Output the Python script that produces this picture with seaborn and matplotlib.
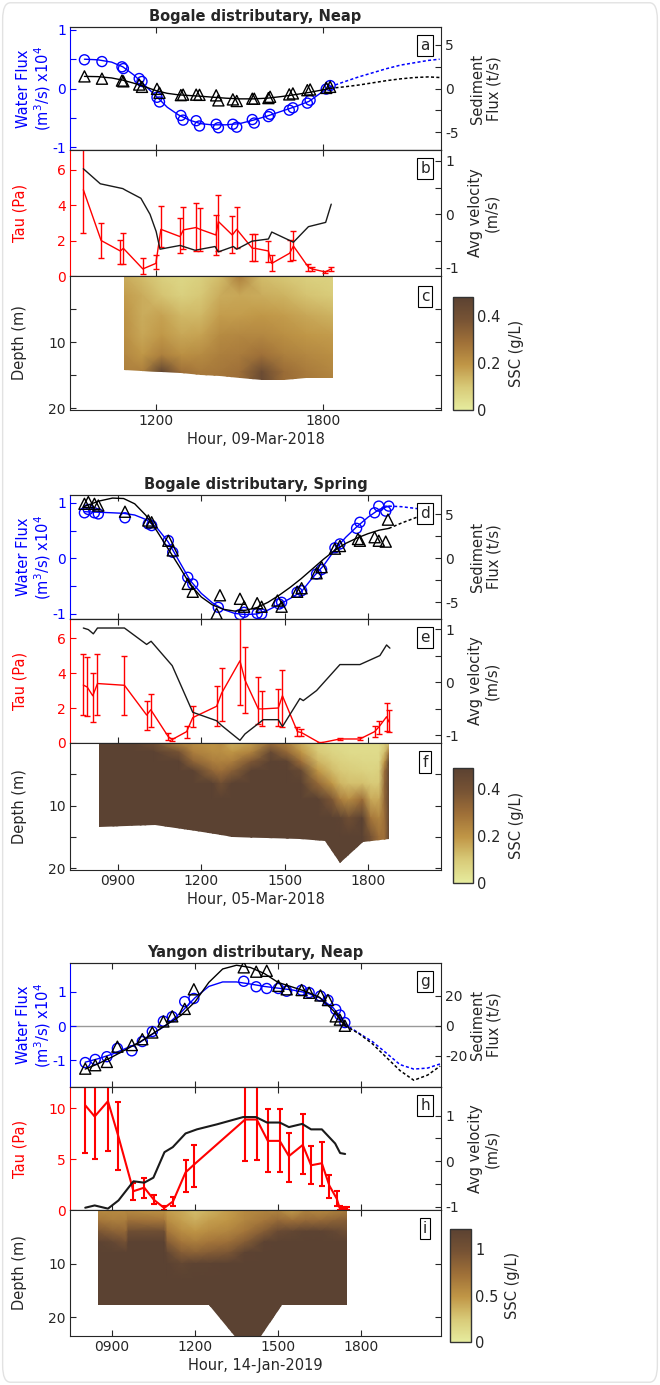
import numpy as np
import matplotlib
matplotlib.use("Agg")
import matplotlib.pyplot as plt
from matplotlib.colors import LinearSegmentedColormap
from matplotlib.patches import FancyBboxPatch, Polygon
import seaborn as sns

# ---------------- Bogale, neap (09-Mar-2018) ----------------
a_t = [9.42, 10.05, 10.77, 10.82, 11.39, 11.49, 12.03, 12.12, 12.89, 12.97, 13.44, 13.56, 14.16,
       14.24, 14.76, 14.90, 15.46, 15.53, 16.04, 16.10, 16.79, 16.92, 17.44, 17.54, 18.12, 18.26]
a_water = [0.49, 0.46, 0.37, 0.34, 0.17, 0.12, -0.15, -0.23, -0.46, -0.54, -0.55, -0.64, -0.61,
           -0.67, -0.61, -0.66, -0.53, -0.59, -0.48, -0.44, -0.37, -0.33, -0.25, -0.20, -0.01, 0.05]
a_sed = [1.38, 1.12, 0.90, 0.82, 0.45, 0.19, -0.04, -0.49, -0.75, -0.70, -0.70, -0.72, -0.78,
         -1.35, -1.24, -1.42, -1.16, -1.16, -1.09, -0.94, -0.67, -0.56, -0.19, -0.11, 0.07, 0.19]
a_fit_t = [9.42, 9.9, 10.4, 10.8, 11.2, 11.6, 12.0, 12.4, 12.8, 13.2, 13.6, 14.0, 14.5, 15.0, 15.5,
           16.0, 16.5, 17.0, 17.5, 18.0, 18.26]
a_fit_water = [0.50, 0.49, 0.45, 0.37, 0.23, 0.05, -0.13, -0.32, -0.45, -0.54, -0.60, -0.62, -0.62,
               -0.60, -0.54, -0.47, -0.39, -0.31, -0.22, -0.05, 0.03]
a_fit_sed = [1.38, 1.35, 1.2, 0.95, 0.6, 0.2, -0.25, -0.55, -0.72, -0.8, -0.88, -0.98, -1.1, -1.18,
             -1.18, -1.1, -0.92, -0.7, -0.45, -0.15, 0.02]
a_ext_t = [18.26, 18.8, 19.3, 19.8, 20.3, 20.8, 21.3, 21.8, 22.2]
a_ext_water = [0.03, 0.12, 0.2, 0.27, 0.34, 0.4, 0.44, 0.48, 0.5]
a_ext_sed = [0.02, 0.2, 0.4, 0.65, 0.9, 1.1, 1.25, 1.32, 1.25]

b_t = [9.38, 10.02, 10.71, 10.82, 11.52, 11.99, 12.17, 12.86, 12.98, 13.43, 13.58, 14.15, 14.24,
       14.74, 14.90, 15.46, 15.55, 16.04, 16.16, 16.80, 16.94, 17.48, 17.60, 18.08, 18.30]
b_tau = [4.86, 2.0, 1.41, 1.56, 0.4, 0.71, 2.63, 2.22, 2.6, 2.73, 2.63, 2.31, 3.07, 2.31, 2.63,
         1.56, 1.56, 1.41, 0.71, 1.28, 1.69, 0.49, 0.4, 0.23, 0.4]
b_tau_lo = [2.43, 1.0, 0.68, 0.7, 0.1, 0.4, 1.62, 1.28, 1.5, 1.41, 1.4, 1.19, 1.4, 1.3, 1.6, 0.85,
            0.85, 0.8, 0.3, 0.87, 0.9, 0.3, 0.3, 0.15, 0.3]
b_tau_hi = [7.5, 2.98, 2.03, 2.41, 1.0, 1.2, 3.95, 3.26, 3.9, 4.1, 3.85, 3.44, 4.58, 3.4, 3.9, 2.35,
            2.35, 2.0, 1.2, 2.03, 2.56, 0.65, 0.5, 0.3, 0.5]
b_vel_t = [9.38, 9.99, 10.8, 10.9, 11.45, 11.78, 12.0, 12.14, 12.86, 13.4, 14.12, 14.24, 14.78,
           14.9, 15.45, 16.04, 16.16, 16.94, 17.48, 18.1, 18.3]
b_vel = [0.85, 0.57, 0.48, 0.45, 0.3, 0.0, -0.32, -0.65, -0.58, -0.67, -0.6, -0.7, -0.6, -0.65,
         -0.5, -0.46, -0.33, -0.52, -0.23, -0.15, 0.19]

c_time = [10.86, 11.5, 12.2, 12.9, 13.6, 14.3, 15.0, 15.8, 16.6, 17.4, 18.37]
c_depth = [0, 3, 6, 9, 12, 14.5, 16.5]
c_ssc = [  # one list per time column, surface to bottom
    [0.15, 0.18, 0.20, 0.21, 0.23, 0.25, 0.26],
    [0.12, 0.15, 0.15, 0.16, 0.19, 0.25, 0.30],
    [0.08, 0.11, 0.17, 0.19, 0.25, 0.46, 0.46],
    [0.06, 0.08, 0.13, 0.16, 0.21, 0.29, 0.30],
    [0.08, 0.10, 0.13, 0.17, 0.22, 0.26, 0.27],
    [0.12, 0.15, 0.18, 0.22, 0.25, 0.27, 0.28],
    [0.25, 0.16, 0.18, 0.23, 0.26, 0.29, 0.30],
    [0.12, 0.15, 0.19, 0.23, 0.29, 0.42, 0.44],
    [0.10, 0.14, 0.18, 0.21, 0.25, 0.30, 0.30],
    [0.08, 0.11, 0.16, 0.19, 0.23, 0.26, 0.27],
    [0.07, 0.09, 0.14, 0.18, 0.21, 0.23, 0.25],
]
c_bed_t = [10.86, 11.5, 12.2, 12.9, 13.6, 14.3, 15.0, 15.8, 16.6, 17.4, 18.37]
c_bed = [14.2, 14.4, 14.6, 14.7, 15.0, 15.2, 15.5, 15.8, 15.7, 15.5, 15.4]

# ---------------- Bogale, spring (05-Mar-2018) ----------------
d_t = [7.79, 7.93, 8.15, 8.29, 9.25, 10.09, 10.21, 10.81, 10.97, 11.51, 11.69, 12.61, 13.39, 13.54,
       14.01, 14.17, 14.80, 14.89, 15.45, 15.61, 16.15, 16.33, 16.81, 16.99, 17.59, 17.71, 18.24,
       18.39, 18.64, 18.75]
d_water = [0.82, 0.88, 0.82, 0.80, 0.73, 0.62, 0.59, 0.32, 0.11, -0.34, -0.46, -0.88, -1.01, -0.97,
           -0.99, -1.0, -0.82, -0.79, -0.61, -0.58, -0.28, -0.20, 0.19, 0.26, 0.54, 0.65, 0.82,
           0.94, 0.85, 0.94]
d_sed_t = [7.79, 7.93, 8.15, 8.29, 9.25, 10.09, 10.21, 10.81, 10.97, 11.51, 11.69, 12.55, 12.67,
           13.39, 13.54, 14.01, 14.17, 14.74, 14.89, 15.45, 15.61, 16.15, 16.33, 16.81, 16.99,
           17.64, 17.71, 18.24, 18.39, 18.64, 18.72]
d_sed = [6.2, 6.4, 6.2, 6.0, 5.3, 4.3, 4.1, 2.0, 0.9, -2.9, -3.8, -6.3, -4.2, -4.6, -5.5, -5.1,
         -5.5, -4.8, -5.5, -3.8, -3.4, -1.7, -1.0, 1.1, 1.4, 2.2, 2.0, 2.4, 2.0, 1.9, 4.4]
d_fit_t = [7.79, 8.3, 8.8, 9.2, 9.6, 10.0, 10.4, 10.8, 11.2, 11.6, 12.0, 12.4, 12.8, 13.2, 13.6,
           14.0, 14.4, 14.8, 15.2, 15.6, 16.0, 16.4, 16.8, 17.2, 17.6, 18.0, 18.4, 18.75]
d_fit_water = [0.84, 0.83, 0.82, 0.81, 0.78, 0.70, 0.55, 0.30, -0.05, -0.40, -0.63, -0.80, -0.92,
               -0.99, -1.01, -1.0, -0.93, -0.83, -0.72, -0.60, -0.35, -0.13, 0.15, 0.38, 0.57,
               0.74, 0.88, 0.94]
d_fit_sed = [5.9, 6.5, 6.85, 6.8, 6.2, 4.9, 3.1, 1.1, -0.9, -3.0, -4.4, -5.3, -5.8, -6.0, -5.9,
             -5.6, -5.0, -4.2, -3.3, -2.3, -1.2, -0.1, 0.9, 1.7, 2.3, 2.8, 3.2, 3.4]
d_ext_t = [18.75, 19.2, 19.7, 20.2]
d_ext_water = [0.94, 0.93, 0.9, 0.86]
d_ext_sed = [3.4, 4.0, 4.6, 5.2]

e_t = [7.75, 7.89, 8.09, 8.26, 9.23, 10.03, 10.18, 10.81, 10.95, 11.47, 11.69, 12.55, 12.73, 13.39,
       13.57, 14.05, 14.20, 14.77, 14.92, 15.46, 15.60, 16.27, 16.99, 17.71, 18.24, 18.40, 18.67,
       18.76]
e_tau = [3.31, 3.2, 2.7, 3.4, 3.3, 1.6, 1.9, 0.36, 0.2, 0.65, 1.45, 2.1, 2.85, 4.7, 3.6, 1.95, 1.95,
         2.0, 2.7, 0.65, 0.6, 0.0, 0.23, 0.23, 0.65, 0.93, 1.5, 1.2]
e_tau_lo = [1.6, 1.55, 1.22, 1.6, 1.6, 0.74, 0.9, 0.2, 0.1, 0.3, 0.9, 0.97, 1.25, 2.2, 1.7, 1.1,
            1.0, 1.0, 0.9, 0.4, 0.4, 0.0, 0.15, 0.15, 0.35, 0.5, 0.7, 0.65]
e_tau_hi = [5.1, 4.9, 3.98, 5.1, 5.0, 2.4, 2.8, 0.6, 0.3, 1.0, 2.1, 3.25, 4.3, 7.5, 5.5, 3.8, 3.0,
            3.1, 4.2, 0.9, 0.8, 0.05, 0.3, 0.35, 0.95, 1.25, 2.27, 1.9]
e_vel_t = [7.75, 7.93, 8.11, 8.26, 9.23, 10.03, 10.19, 10.95, 11.69, 12.55, 12.73, 13.39, 13.57,
           14.23, 14.77, 14.92, 15.55, 15.67, 16.15, 16.99, 17.71, 18.43, 18.67, 18.79]
e_vel = [1.02, 0.99, 0.91, 1.02, 1.02, 0.71, 0.77, 0.31, -0.57, -0.73, -0.82, -1.1, -0.98, -0.71,
         -0.71, -0.84, -0.31, -0.35, -0.16, 0.33, 0.33, 0.5, 0.7, 0.64]

f_time = [8.3, 9.5, 10.3, 11.2, 11.7, 12.4, 12.7, 13.1, 13.8, 14.5, 15.1, 15.6, 16.2, 16.7, 17.0,
          17.3, 17.8, 18.1, 18.4, 18.6, 18.77]
f_depth = [0, 1.5, 3, 4.5, 6.5, 9, 12, 15, 19.5]
f_ssc = [
    [0.6, 0.6, 0.6, 0.6, 0.6, 0.6, 0.6, 0.6, 0.6],
    [0.6, 0.6, 0.6, 0.6, 0.6, 0.6, 0.6, 0.6, 0.6],
    [0.42, 0.6, 0.6, 0.6, 0.6, 0.6, 0.6, 0.6, 0.6],
    [0.25, 0.40, 0.6, 0.6, 0.6, 0.6, 0.6, 0.6, 0.6],
    [0.22, 0.26, 0.34, 0.50, 0.6, 0.6, 0.6, 0.6, 0.6],
    [0.20, 0.22, 0.26, 0.33, 0.52, 0.6, 0.6, 0.6, 0.6],
    [0.22, 0.22, 0.25, 0.30, 0.42, 0.6, 0.6, 0.6, 0.6],
    [0.15, 0.20, 0.26, 0.35, 0.52, 0.6, 0.6, 0.6, 0.6],
    [0.18, 0.25, 0.38, 0.55, 0.6, 0.6, 0.6, 0.6, 0.6],
    [0.30, 0.45, 0.6, 0.6, 0.6, 0.6, 0.6, 0.6, 0.6],
    [0.25, 0.32, 0.48, 0.6, 0.6, 0.6, 0.6, 0.6, 0.6],
    [0.15, 0.20, 0.30, 0.45, 0.6, 0.6, 0.6, 0.6, 0.6],
    [0.08, 0.10, 0.14, 0.20, 0.32, 0.6, 0.6, 0.6, 0.6],
    [0.06, 0.07, 0.10, 0.13, 0.20, 0.38, 0.6, 0.6, 0.6],
    [0.05, 0.06, 0.08, 0.10, 0.14, 0.26, 0.48, 0.6, 0.6],
    [0.05, 0.05, 0.07, 0.09, 0.12, 0.22, 0.42, 0.6, 0.6],
    [0.05, 0.05, 0.06, 0.08, 0.12, 0.30, 0.6, 0.6, 0.6],
    [0.05, 0.05, 0.06, 0.07, 0.10, 0.16, 0.28, 0.40, 0.40],
    [0.05, 0.05, 0.06, 0.08, 0.10, 0.16, 0.24, 0.30, 0.30],
    [0.08, 0.12, 0.20, 0.30, 0.32, 0.32, 0.30, 0.30, 0.30],
    [0.10, 0.30, 0.6, 0.6, 0.6, 0.6, 0.6, 0.6, 0.6],
]
f_bed_t = [8.3, 10.33, 11.8, 12.5, 13.14, 15.55, 16.45, 16.99, 17.82, 18.77]
f_bed = [13.4, 13.1, 14.0, 14.6, 15.0, 15.3, 15.6, 19.2, 15.9, 15.3]

# ---------------- Yangon, neap (14-Jan-2019) ----------------
g_t = [8.04, 8.40, 8.82, 9.20, 9.72, 10.10, 10.46, 10.86, 11.18, 11.63, 11.96, 13.76, 14.21, 14.59,
       15.01, 15.31, 15.85, 16.12, 16.53, 16.80, 17.08, 17.23, 17.41]
g_water = [-1.06, -0.97, -0.89, -0.65, -0.72, -0.45, -0.16, 0.14, 0.27, 0.71, 0.80, 1.30, 1.14,
           1.09, 1.09, 1.01, 1.04, 0.97, 0.87, 0.75, 0.48, 0.32, 0.10]
g_sed = [-28.7, -26.4, -24.2, -14.0, -12.9, -9.0, -4.5, 2.9, 6.3, 11.3, 24.4, 39.1, 36.2, 36.8,
         26.7, 24.4, 23.9, 22.1, 20.3, 17.2, 6.3, 4.1, 0.0]
g_fit_t = [8.04, 8.5, 9.0, 9.5, 10.0, 10.5, 11.0, 11.5, 12.0, 12.5, 13.0, 13.5, 14.0, 14.5, 15.0,
           15.5, 16.0, 16.5, 17.0, 17.41]
g_fit_water = [-1.05, -0.95, -0.82, -0.65, -0.48, -0.22, 0.05, 0.4, 0.82, 1.15, 1.28, 1.28, 1.22,
               1.15, 1.1, 1.05, 0.97, 0.82, 0.52, 0.06]
g_fit_sed = [-29, -25.5, -21, -16, -11, -5, 1, 7, 16, 29, 38, 40.5, 39, 35, 29, 26, 23, 19, 10, 0]
g_ext_t = [17.41, 17.9, 18.4, 18.9, 19.4, 19.9, 20.4, 20.85]
g_ext_water = [0.06, -0.2, -0.45, -0.78, -1.12, -1.25, -1.22, -1.1]
g_ext_sed = [0, -5, -12, -21, -30, -36.5, -33, -27]

h_t = [8.04, 8.38, 8.86, 9.24, 9.78, 10.17, 10.52, 10.89, 11.21, 11.66, 11.98, 13.81, 14.23, 14.63,
       15.06, 15.39, 15.89, 16.19, 16.58, 16.85, 17.12, 17.22, 17.37, 17.49]
h_tau = [10.3, 9.2, 10.7, 7.2, 1.85, 2.2, 1.0, 0.2, 0.85, 3.7, 4.5, 8.9, 8.9, 6.8, 6.8, 5.3, 6.4,
         4.4, 4.6, 2.4, 1.1, 0.2, 0.15, 0.15]
h_tau_lo = [5.6, 5.0, 5.8, 3.9, 0.95, 1.2, 0.6, 0.0, 0.4, 1.75, 2.3, 4.8, 4.9, 3.7, 3.7, 2.8, 3.5,
            2.6, 2.4, 1.2, 0.4, 0.0, 0.0, 0.0]
h_tau_hi = [13, 13, 13, 10.6, 2.7, 3.1, 1.5, 0.4, 1.3, 4.9, 6.4, 13, 13, 9.9, 9.9, 7.6, 9.4, 6.3,
            6.7, 3.4, 1.9, 0.4, 0.3, 0.3]
h_vel_t = [8.04, 8.38, 8.86, 9.24, 9.78, 10.17, 10.5, 10.9, 11.2, 11.66, 12.07, 12.79, 13.74, 14.2,
           14.6, 15.06, 15.39, 15.87, 16.19, 16.58, 17.06, 17.24, 17.42]
h_vel = [-1.02, -0.97, -1.04, -0.86, -0.44, -0.47, -0.36, 0.2, 0.31, 0.61, 0.7, 0.81, 0.97, 0.97,
         0.85, 0.85, 0.75, 0.82, 0.7, 0.7, 0.39, 0.18, 0.16]

i_time = [8.5, 9.0, 9.5, 9.6, 10.9, 11.0, 11.5, 12.0, 12.5, 13.2, 13.8, 14.5, 15.0, 15.5, 16.0,
          16.5, 17.0, 17.48]
i_depth = [0, 2, 4, 6, 8, 10, 13, 18, 24]
i_ssc = [
    [0.55, 0.70, 0.95, 1.20, 1.3, 1.3, 1.3, 1.3, 1.3],
    [0.55, 0.65, 0.85, 1.15, 1.3, 1.3, 1.3, 1.3, 1.3],
    [0.55, 0.65, 0.80, 1.00, 1.25, 1.3, 1.3, 1.3, 1.3],
    [0.55, 0.75, 1.05, 1.3, 1.3, 1.3, 1.3, 1.3, 1.3],
    [0.50, 0.70, 1.05, 1.3, 1.3, 1.3, 1.3, 1.3, 1.3],
    [0.45, 0.55, 0.70, 0.90, 1.15, 1.3, 1.3, 1.3, 1.3],
    [0.40, 0.45, 0.55, 0.70, 0.90, 1.15, 1.3, 1.3, 1.3],
    [0.30, 0.38, 0.50, 0.65, 0.85, 1.20, 1.3, 1.3, 1.3],
    [0.35, 0.45, 0.55, 0.70, 0.90, 1.20, 1.3, 1.3, 1.3],
    [0.45, 0.50, 0.60, 0.75, 0.95, 1.3, 1.3, 1.3, 1.3],
    [0.55, 0.60, 0.70, 0.90, 1.20, 1.3, 1.3, 1.3, 1.3],
    [0.60, 0.70, 0.90, 1.20, 1.3, 1.3, 1.3, 1.3, 1.3],
    [0.60, 0.80, 1.10, 1.3, 1.3, 1.3, 1.3, 1.3, 1.3],
    [0.45, 0.75, 1.15, 1.3, 1.3, 1.3, 1.3, 1.3, 1.3],
    [0.60, 0.80, 1.20, 1.3, 1.3, 1.3, 1.3, 1.3, 1.3],
    [0.55, 0.80, 1.20, 1.3, 1.3, 1.3, 1.3, 1.3, 1.3],
    [0.60, 0.85, 1.15, 1.3, 1.3, 1.3, 1.3, 1.3, 1.3],
    [0.65, 0.90, 1.05, 1.25, 1.3, 1.3, 1.3, 1.3, 1.3],
]
i_bed_t = [8.5, 12.52, 13.5, 14.3, 15.13, 17.48]
i_bed = [17.7, 17.7, 24, 24, 17.7, 17.7]

# ---------------------------------------------------------------
sns.set_style("ticks")
plt.rcParams["font.family"] = ["DejaVu Sans"]
plt.rcParams["font.size"] = 10

BLUE = "#0000ff"
RED = "#ff0000"
ssc_cmap = LinearSegmentedColormap.from_list(
    "ssc", ["#e6ec9e", "#d8ca78", "#c09646", "#9f7038", "#775334", "#5b4232"])

W, H = 660, 1385
fig = plt.figure(figsize=(6.6, 13.85), dpi=100)


def px_box(x0, y0, x1, y1):
    return [x0 / W, 1 - y1 / H, (x1 - x0) / W, (y1 - y0) / H]


def style(ax):
    for s in ax.spines.values():
        s.set_linewidth(0.8)
    ax.tick_params(which="both", direction="in", length=4, width=0.8, labelsize=10,
                   top=True, pad=3)


def letter(ax, s):
    ax.text(0.957, 0.85, s, transform=ax.transAxes, ha="center", va="center", fontsize=11,
            zorder=20, bbox=dict(boxstyle="square,pad=0.2", fc="white", ec="black", lw=0.8))


def flux_panel(box, xlim, xticks, title, lab, t, water, st, sed, ft, fw, fs, et, ew, es,
               lylim, lticks, lticklabels, rylim, rticks, rticklabels, zero=False):
    ax = fig.add_axes(box)
    ax2 = ax.twinx()
    if zero:
        ax.axhline(0, color="#999999", lw=1, zorder=0)
    sns.lineplot(x=ft, y=fw, ax=ax, color=BLUE, lw=1, estimator=None, sort=False)
    sns.lineplot(x=et, y=ew, ax=ax, color=BLUE, lw=1.1, linestyle=(0, (2, 1.5)),
                 estimator=None, sort=False)
    sns.scatterplot(x=t, y=water, ax=ax, marker="o", s=52, color=BLUE, facecolor="none",
                    edgecolor=BLUE, linewidth=1, zorder=3)
    sns.lineplot(x=ft, y=fs, ax=ax2, color="black", lw=1, estimator=None, sort=False)
    sns.lineplot(x=et, y=es, ax=ax2, color="black", lw=1.1, linestyle=(0, (2, 1.5)),
                 estimator=None, sort=False)
    sns.scatterplot(x=st, y=sed, ax=ax2, marker="^", s=64, color="black", facecolor="none",
                    edgecolor="black", linewidth=1, zorder=3)
    for a in (ax, ax2):
        style(a)
        a.set_xlim(xlim)
        a.set_xticks(xticks)
        a.tick_params(axis="x", labelbottom=False)
    ax.set_ylim(lylim)
    ax.set_yticks(lticks)
    ax.set_yticklabels(lticklabels)
    ax2.set_ylim(rylim)
    ax2.set_yticks(rticks)
    ax2.set_yticklabels(rticklabels)
    ax.tick_params(axis="y", colors=BLUE)
    ax.spines["left"].set_color(BLUE)
    ax2.spines["left"].set_visible(False)
    ax.spines["right"].set_visible(False)
    ax.set_ylabel("Water Flux\n(m$^3$/s) x10$^4$", color=BLUE, fontsize=10.5, linespacing=1.1)
    ax.yaxis.set_label_coords(-0.046, 0.5)
    ax2.set_ylabel("Sediment\nFlux (t/s)", fontsize=10.5, linespacing=1.1)
    ax2.yaxis.set_label_coords(1.078, 0.5)
    ax.set_xlabel("")
    ax2.set_xlabel("")
    ax.set_title(title, fontweight="bold", fontsize=10.5, pad=4)
    letter(ax2, lab)
    return ax


def tau_panel(box, xlim, xticks, lab, t, tau, lo, hi, vt, vel, lylim, lticks, rylim, lw=1.0):
    ax = fig.add_axes(box)
    ax2 = ax.twinx()
    tau = np.array(tau)
    yerr = [tau - np.array(lo), np.array(hi) - tau]
    ax.errorbar(t, tau, yerr=yerr, color=RED, lw=lw, elinewidth=lw, capsize=2.5,
                capthick=lw, zorder=3)
    sns.lineplot(x=vt, y=vel, ax=ax2, color="#1a1a1a", lw=lw, estimator=None, sort=False)
    for a in (ax, ax2):
        style(a)
        a.set_xlim(xlim)
        a.set_xticks(xticks)
        a.tick_params(axis="x", labelbottom=False)
    ax.set_ylim(lylim)
    ax.set_yticks(lticks)
    ax2.set_ylim(rylim)
    ax2.set_yticks([-1, -0.5, 0, 0.5, 1])
    ax2.set_yticklabels(["-1", "", "0", "", "1"])
    ax.tick_params(axis="y", colors=RED)
    ax.spines["left"].set_color(RED)
    ax2.spines["left"].set_visible(False)
    ax.spines["right"].set_visible(False)
    ax.set_ylabel("Tau (Pa)", color=RED, fontsize=10.5)
    ax.yaxis.set_label_coords(-0.115, 0.5)
    ax2.set_ylabel("Avg velocity\n(m/s)", fontsize=10.5, linespacing=1.1)
    ax2.yaxis.set_label_coords(1.073, 0.5)
    ax2.set_xlabel("")
    letter(ax2, lab)
    return ax


def ssc_panel(box, cbox, xlim, xticks, xticklabels, xlabel, lab, time, depth, ssc, bt, bed,
              ylim, yticks, yticklabels, vmax, cticks, cpos):
    ax = fig.add_axes(box)
    T, D = np.meshgrid(time, depth)
    S = np.array(ssc).T
    mesh = ax.pcolormesh(T, D, S, shading="gouraud", cmap=ssc_cmap, vmin=0, vmax=vmax,
                         zorder=1, rasterized=True)
    # clip the section to the measured water column (surface down to the bed)
    outline = [(bt[0], -5)] + list(zip(bt, bed)) + [(bt[-1], -5)]
    clip = Polygon(outline, closed=True, transform=ax.transData)
    mesh.set_clip_path(clip)
    style(ax)
    ax.tick_params(right=True)
    ax.set_xlim(xlim)
    ax.set_ylim(ylim)
    ax.set_xticks(xticks)
    ax.set_xticklabels(xticklabels)
    ax.set_yticks(yticks)
    ax.set_yticklabels(yticklabels)
    ax.set_xlabel(xlabel, fontsize=10.5, labelpad=3)
    ax.set_ylabel("Depth (m)", fontsize=10.5)
    ax.yaxis.set_label_coords(-0.115, 0.5)
    letter(ax, lab)
    cax = fig.add_axes(cbox)
    cb = fig.colorbar(mesh, cax=cax)
    cb.set_ticks(cticks)
    cb.set_ticklabels(["%g" % c for c in cticks])
    cb.outline.set_linewidth(1.0)
    cb.outline.set_edgecolor("#333333")
    cax.tick_params(length=0, labelsize=10.5, pad=3)
    cb.set_label("SSC (g/L)", fontsize=10.5)
    cax.yaxis.set_label_coords(cpos, 0.5)
    return ax


# group 1
xl1 = (8.9, 22.25)
xt1 = [12, 18]
flux_panel(px_box(70, 27, 441, 150), xl1, xt1, "Bogale distributary, Neap", "a",
           a_t, a_water, a_t, a_sed, a_fit_t, a_fit_water, a_fit_sed, a_ext_t, a_ext_water,
           a_ext_sed, (-1.05, 1.05), [-1, -0.5, 0, 0.5, 1], ["-1", "", "0", "", "1"],
           (-7, 7), [-5, -2.5, 0, 2.5, 5], ["-5", "", "0", "", "5"])
tau_panel(px_box(70, 150, 441, 276), xl1, xt1, "b", b_t, b_tau, b_tau_lo, b_tau_hi,
          b_vel_t, b_vel, (0, 7.1), [0, 2, 4, 6], (-1.15, 1.2))
ssc_panel(px_box(70, 276, 441, 410), px_box(453, 297, 473, 410), xl1, xt1, ["1200", "1800"],
          "Hour, 09-Mar-2018", "c", c_time, c_depth, c_ssc, c_bed_t, c_bed, (20.3, 0),
          [5, 10, 15, 20], ["", "10", "", "20"], 0.48, [0, 0.2, 0.4], 2.8)

# group 2
xl2 = (7.27, 20.63)
xt = [9, 12, 15, 18]
xtl = ["0900", "1200", "1500", "1800"]
flux_panel(px_box(70, 495, 441, 619), xl2, xt, "Bogale distributary, Spring", "d",
           d_t, d_water, d_sed_t, d_sed, d_fit_t, d_fit_water, d_fit_sed, d_ext_t, d_ext_water,
           d_ext_sed, (-1.09, 1.14), [-1, -0.5, 0, 0.5, 1], ["-1", "", "0", "", "1"],
           (-6.9, 7.2), [-5, -2.5, 0, 2.5, 5], ["-5", "", "0", "", "5"])
tau_panel(px_box(70, 619, 441, 743), xl2, xt, "e", e_t, e_tau, e_tau_lo, e_tau_hi,
          e_vel_t, e_vel, (0, 7.09), [0, 2, 4, 6], (-1.15, 1.19))
ssc_panel(px_box(70, 743, 441, 870), px_box(453, 768, 473, 883), xl2, xt, xtl,
          "Hour, 05-Mar-2018", "f", f_time, f_depth, f_ssc, f_bed_t, f_bed, (20.3, 0),
          [5, 10, 15, 20], ["", "10", "", "20"], 0.49, [0, 0.2, 0.4], 2.8)

# group 3
xl3 = (7.49, 20.88)
flux_panel(px_box(70, 963, 441, 1087), xl3, xt, "Yangon distributary, Neap", "g",
           g_t, g_water, g_t, g_sed, g_fit_t, g_fit_water, g_fit_sed, g_ext_t, g_ext_water,
           g_ext_sed, (-1.77, 1.83), [-1, 0, 1], ["-1", "0", "1"],
           (-41, 42), [-20, 0, 20], ["-20", "0", "20"], zero=True)
tau_panel(px_box(70, 1087, 441, 1210), xl3, xt, "h", h_t, h_tau, h_tau_lo, h_tau_hi,
          h_vel_t, h_vel, (0, 12.1), [0, 5, 10], (-1.07, 1.63), lw=1.5)
ssc_panel(px_box(70, 1210, 441, 1336), px_box(450, 1229, 471, 1342), xl3, xt, xtl,
          "Hour, 14-Jan-2019", "i", i_time, i_depth, i_ssc, i_bed_t, i_bed, (23.5, 0),
          [10, 20], ["10", "20"], 1.22, [0, 0.5, 1], 2.6)

fig.patches.append(FancyBboxPatch((0.004, 0.002), 0.992, 0.996,
                                  boxstyle="round,pad=0,rounding_size=0.012",
                                  transform=fig.transFigure, fc="none", ec="#e2e2e2", lw=1))

fig.savefig("out.png", dpi=100)
